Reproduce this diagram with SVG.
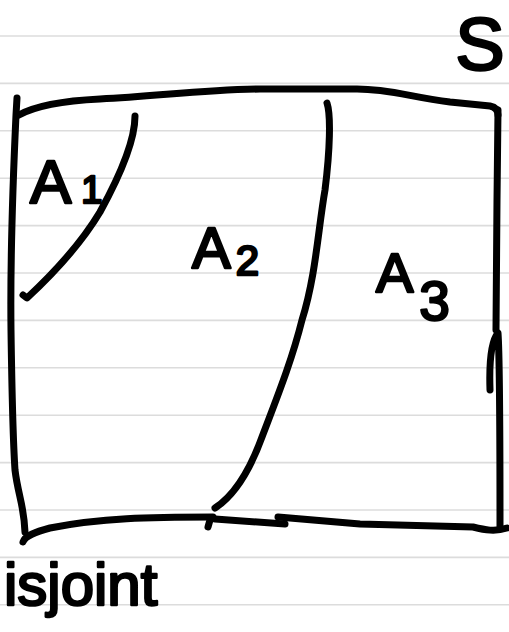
<svg xmlns="http://www.w3.org/2000/svg" width="509" height="632" viewBox="0 0 509 632">
<style>
.rule{stroke:#dcdcdc;stroke-width:1.6}
.ink{fill:none;stroke:#000;stroke-width:7;stroke-linecap:round;stroke-linejoin:round}
.lbl{font-family:"Liberation Sans","DejaVu Sans",sans-serif;fill:#000;stroke:#000;stroke-width:2.5;stroke-linejoin:round}
</style>
<rect width="509" height="632" fill="#fff"/>
<g id="ruled-lines">
<line class="rule" x1="0" y1="36" x2="509" y2="36"/>
<line class="rule" x1="0" y1="83.4" x2="509" y2="83.4"/>
<line class="rule" x1="0" y1="130.8" x2="509" y2="130.8"/>
<line class="rule" x1="0" y1="178.2" x2="509" y2="178.2"/>
<line class="rule" x1="0" y1="225.6" x2="509" y2="225.6"/>
<line class="rule" x1="0" y1="273" x2="509" y2="273"/>
<line class="rule" x1="0" y1="320.4" x2="509" y2="320.4"/>
<line class="rule" x1="0" y1="367.8" x2="509" y2="367.8"/>
<line class="rule" x1="0" y1="415.2" x2="509" y2="415.2"/>
<line class="rule" x1="0" y1="462.6" x2="509" y2="462.6"/>
<line class="rule" x1="0" y1="510" x2="509" y2="510"/>
<line class="rule" x1="0" y1="557.4" x2="509" y2="557.4"/>
<line class="rule" x1="0" y1="604.8" x2="509" y2="604.8"/>
</g>
<g id="S">
<path class="ink" d="M19,115 C35,106 60,101 100,99 C160,96 200,90 260,89 L357,89 C390,89 410,97 450,102 L490,106 C495,107 498,110 498,115"/>
<path class="ink" d="M498,110 L497,200 L496,330"/>
<path class="ink" d="M490,390 C489,360 492,340 498,333 C500,360 500,420 500,528"/>
<path class="ink" d="M17,98 L16,115 C13,180 10,250 11,330 C12,400 13,440 15,470 C18,495 24,505 25,532"/>
<path class="ink" d="M23,542 C25,536 35,532 50,528 C100,518 150,517 213,517"/>
<path class="ink" d="M208,527 L210,520"/>
<path class="ink" d="M215,519 L285,524"/>
<path class="ink" d="M278,517 L360,524 L473,527 C485,530 495,532 507,528"/>
<text class="lbl" x="480" y="70" font-size="74" text-anchor="middle">S</text>
</g>
<g id="connectors">
<path id="A1-boundary" class="ink" d="M135,116 C135,140 122,172 100,212 C82,242 55,272 27,298 L23,295"/>
<path id="A2-boundary" class="ink" d="M327,103 C331,115 330,150 325,190 C318,230 316,275 302,320 C292,360 278,395 262,437 C250,470 235,495 215,508"/>
</g>
<g id="A1">
<text class="lbl" x="30" y="203" font-size="62">A<tspan font-size="38" dx="10">1</tspan></text>
</g>
<g id="A2">
<text class="lbl" x="192" y="268" font-size="58">A<tspan font-size="42" dx="5" dy="7">2</tspan></text>
</g>
<g id="A3">
<text class="lbl" x="376" y="292" font-size="56">A<tspan font-size="55" dx="6" dy="28">3</tspan></text>
</g>
<g id="caption">
<text class="lbl" x="4" y="605" font-size="60">isjoint</text>
</g>
</svg>
